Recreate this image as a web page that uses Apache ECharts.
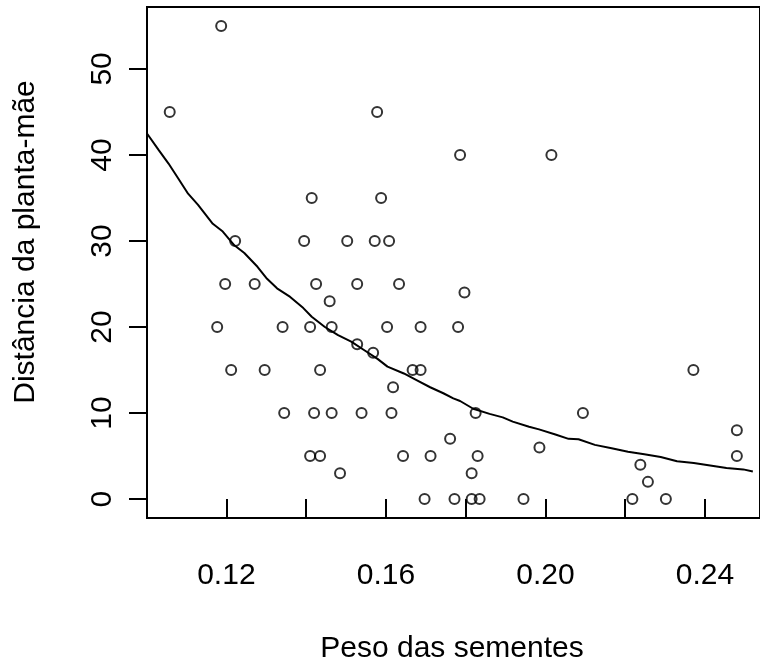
<!DOCTYPE html>
<html>
<head>
<meta charset="utf-8">
<script src="https://cdn.jsdelivr.net/npm/echarts@6/dist/echarts.min.js"></script>
<style>
html,body{margin:0;padding:0;background:#fff;}
#chart{width:760px;height:669px;}
</style>
</head>
<body>
<div id="chart"></div>
<script>
// Observed points: seed weight (x) and distance from mother plant (y)
var seedWeight = [0.1187,0.1058,0.1578,0.1414,0.1588,0.1222,0.1395,0.1503,0.1572,0.1608,
  0.1197,0.1271,0.1425,0.1528,0.1633,0.1459,0.1177,0.1341,0.1410,0.1464,
  0.1603,0.1687,0.1528,0.1568,0.1212,0.1296,0.1435,0.1667,0.1687,0.1618,
  0.1345,0.1420,0.1464,0.1539,0.1614,0.1761,0.1410,0.1435,0.1643,0.1712,
  0.1485,0.1697,0.1797,0.1781,0.2371,0.1825,0.2094,0.2480,0.1985,0.1830,
  0.2480,0.2238,0.1815,0.2257,0.1772,0.1815,0.1835,0.1945,0.2218,0.2302,
  0.1786,0.2015];
var distance = [55,45,45,35,35,30,30,30,30,30,
  25,25,25,25,25,23,20,20,20,20,
  20,20,18,17,15,15,15,15,15,13,
  10,10,10,10,10,7,5,5,5,5,
  3,0,24,20,15,10,10,8,6,5,
  5,4,3,2,0,0,0,0,0,0,
  40,40];
// Fitted curve
var curveX = [0.1001,0.1030,0.1055,0.1079,0.1104,0.1129,0.1166,0.1191,0.1220,0.1245,
  0.1278,0.1302,0.1327,0.1360,0.1393,0.1414,0.1447,0.1480,0.1513,0.1546,
  0.1579,0.1604,0.1645,0.1678,0.1711,0.1744,0.1769,0.1786,0.1819,0.1860,
  0.1893,0.1918,0.1959,0.1984,0.2025,0.2058,0.2083,0.2124,0.2166,0.2207,
  0.2248,0.2289,0.2330,0.2372,0.2413,0.2454,0.2496,0.2520];
var curveY = [42.5,40.6,39.0,37.3,35.5,34.2,32.0,31.1,29.5,28.6,
  27.0,25.6,24.5,23.5,22.2,21.2,20.0,19.05,18.3,17.3,
  16.3,15.4,14.6,13.8,13.0,12.3,11.7,11.4,10.5,9.9,
  9.5,9.0,8.4,8.1,7.5,7.0,6.95,6.3,5.9,5.5,
  5.2,4.9,4.4,4.2,3.9,3.6,3.45,3.2];
var xTicks = [0.12,0.14,0.16,0.18,0.20,0.22,0.24];
var xLabels = [0.12,0.16,0.20,0.24];
var yTicks = [0,10,20,30,40,50];
var xTitle = 'Peso das sementes';
var yTitle = 'Distância da planta-mãe';

var FONT = '"Liberation Sans", Arial, Helvetica, sans-serif';
var scatterData = seedWeight.map(function(v,i){return [v, distance[i]];});
var curveData = curveX.map(function(v,i){return [v, curveY[i]];});

var chart = echarts.init(document.getElementById('chart'), null, {renderer:'canvas'});
chart.setOption({
  animation:false,
  backgroundColor:'#ffffff',
  grid:{left:147, top:7, width:620, height:511, show:true, borderColor:'#000', borderWidth:2, backgroundColor:'transparent', containLabel:false},
  xAxis:{
    type:'value', min:0.1001, max:0.2538,
    axisLine:{show:false},
    splitLine:{show:false},
    axisTick:{show:true, inside:false, length:18, lineStyle:{color:'#000', width:2}, customValues:xTicks},
    axisLabel:{show:true, margin:43, color:'#000', fontSize:30, fontFamily:FONT, customValues:xLabels,
      formatter:function(v){return Number(v).toFixed(2);}}
  },
  yAxis:{
    type:'value', min:-2.2, max:57.2,
    axisLine:{show:false},
    splitLine:{show:false},
    axisTick:{show:true, inside:false, length:18, lineStyle:{color:'#000', width:2}, customValues:yTicks},
    axisLabel:{show:true, rotate:90, margin:29, color:'#000', fontSize:30, fontFamily:FONT, customValues:yTicks,
      formatter:function(v){return String(Math.round(v));}}
  },
  graphic:[
    {type:'text', x:452, y:649, style:{text:xTitle, fill:'#000', font:'30px '+FONT, textAlign:'center', textVerticalAlign:'middle'}},
    {type:'text', x:26, y:242, rotation:Math.PI/2, style:{text:yTitle, fill:'#000', font:'30px '+FONT, textAlign:'center', textVerticalAlign:'middle'}}
  ],
  series:[
    {type:'line', data:curveData, showSymbol:false, symbol:'none', smooth:false, clip:true,
      lineStyle:{color:'#000', width:2}, z:2},
    {type:'scatter', data:scatterData, symbol:'circle', symbolSize:10,
      itemStyle:{color:'rgba(0,0,0,0)', borderColor:'#000', borderWidth:2}, z:3}
  ]
});
</script>
</body>
</html>
